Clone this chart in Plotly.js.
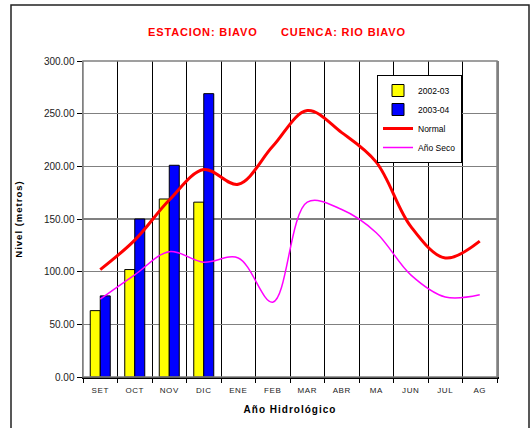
<!DOCTYPE html>
<html>
<head>
<meta charset="utf-8">
<script src="https://cdn.plot.ly/plotly-3.0.1.min.js"></script>
<style>
html,body{margin:0;padding:0;background:#fff;}
#chart{width:531px;height:428px;}
#chart .gtitle{letter-spacing:0.85px;}
#chart .xtick text{letter-spacing:0.6px;}
#chart .g-xtitle text, #chart .g-ytitle text{letter-spacing:1px;}
</style>
</head>
<body>
<div id="chart"></div>
<script>
const months = ["SET","OCT","NOV","DIC","ENE","FEB","MAR","ABR","MA","JUN","JUL","AG"];
const barMonths = ["SET","OCT","NOV","DIC"];
const serie2002 = [63, 102, 169, 166];
const serie2003 = [77, 150, 201, 269];
const normal = [102, 130, 168, 197, 183, 219, 253, 232, 204, 143, 113, 129];
const anoSeco = [74, 97, 119, 109, 113, 71, 166, 159, 137, 97, 76, 78];

const traces = [
  {type:"bar", name:"2002-03", x:barMonths, y:serie2002,
   marker:{color:"#ffff00", line:{color:"#000", width:1}}},
  {type:"bar", name:"2003-04", x:barMonths, y:serie2003,
   marker:{color:"#0000ff", line:{color:"#000", width:1}}},
  {type:"scatter", mode:"lines", name:"Normal", x:months, y:normal,
   line:{color:"#ff0000", width:3, shape:"spline", smoothing:1}},
  {type:"scatter", mode:"lines", name:"Año Seco", x:months, y:anoSeco,
   line:{color:"#ff00ff", width:1.5, shape:"spline", smoothing:1}}
];

const W = 414, H = 316, L = 83, T = 61;
const px = v => (v - L) / W;
const py = v => (T + H - v) / H;

const layout = {
  width:531, height:428,
  margin:{l:83, r:34, t:61, b:51},
  paper_bgcolor:"#fff", plot_bgcolor:"#fff",
  font:{family:"Arial, Liberation Sans, sans-serif", color:"#000"},
  title:{text:"<b>ESTACION: BIAVO&nbsp;&nbsp;&nbsp;&nbsp;&nbsp;&nbsp;CUENCA: RIO BIAVO</b>",
         font:{size:11, color:"#ff0000", family:"Arial, Liberation Sans, sans-serif"},
         xref:"container", x:277/531, xanchor:"center", yref:"container", y:1-32/428, yanchor:"middle"},
  barmode:"group", bargap:0.42, bargroupgap:0,
  showlegend:true,
  legend:{x:px(377), y:py(75), xanchor:"left", yanchor:"top",
          bgcolor:"#fff", bordercolor:"#000", borderwidth:1,
          font:{size:8.5, family:"Arial, Liberation Sans, sans-serif"},
          tracegroupgap:0, itemwidth:30},
  xaxis:{type:"category", categoryorder:"array", categoryarray:months,
         range:[-0.5, 11.5], tickson:"boundaries",
         showgrid:true, gridcolor:"#000", gridwidth:1,
         showline:true, linecolor:"#000", linewidth:1.5, mirror:false,
         ticks:"outside", ticklen:4, tickcolor:"#000",
         ticklabelstandoff:5,
         tickfont:{size:8, color:"#222"},
         title:{text:"<b>Año Hidrológico</b>", font:{size:10}, standoff:12}},
  yaxis:{range:[0,300], dtick:50, tickformat:".2f",
         showgrid:true, gridcolor:"#808080", gridwidth:1.2,
         showline:true, linecolor:"#808080", linewidth:1.5, mirror:true,
         ticks:"outside", ticklen:5, tickcolor:"#000",
         tickfont:{size:10, color:"#222"}, zeroline:false,
         title:{text:"<b>Nivel (metros)</b>", font:{size:9.5}, standoff:19}},
  shapes:[
    {type:"rect", xref:"paper", yref:"paper", x0:px(11), x1:px(529), y0:py(440), y1:py(5),
     line:{color:"#222", width:1.5}, fillcolor:"rgba(0,0,0,0)", layer:"below"},
    {type:"rect", xref:"paper", yref:"paper", x0:0, x1:1, y0:0, y1:1,
     line:{color:"#808080", width:1.5}, fillcolor:"rgba(0,0,0,0)", layer:"above"}
  ]
};

Plotly.newPlot("chart", traces, layout, {displayModeBar:false, staticPlot:true});
</script>
</body>
</html>
